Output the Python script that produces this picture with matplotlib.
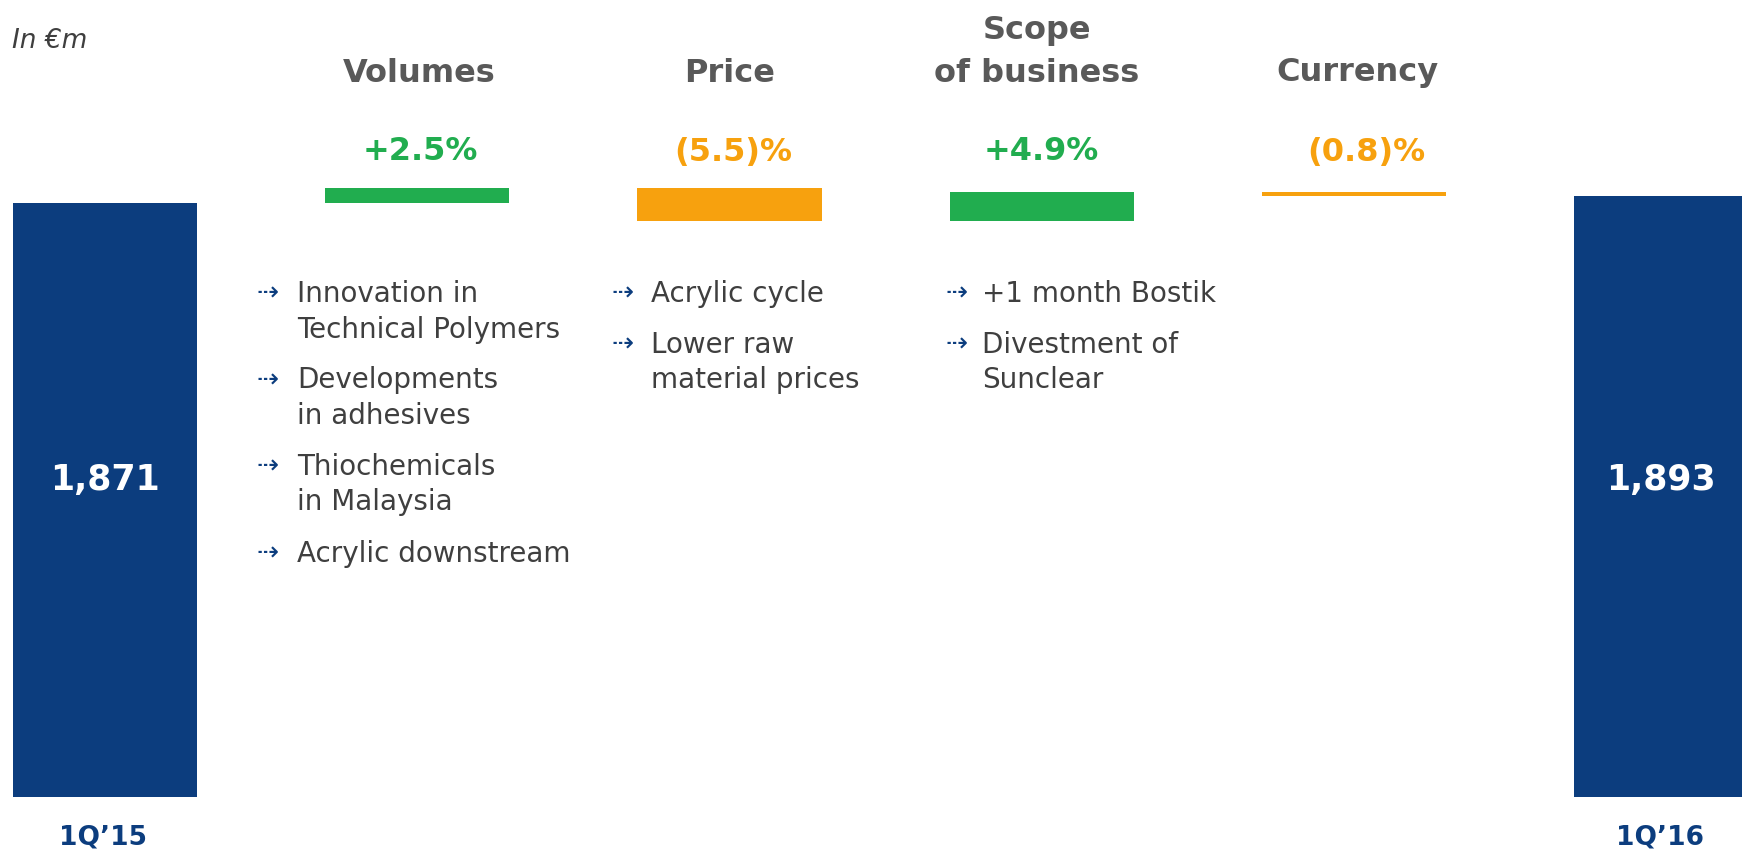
import numpy as np
import matplotlib
matplotlib.use("Agg")
import matplotlib.pyplot as plt

# data
start_label = "1Q\u201915"
end_label = "1Q\u201916"
start_value = 1871
end_value = 1893
steps = ["Volumes", "Price", "Scope\nof business", "Currency"]
step_pct = ["+2.5%", "(5.5)%", "+4.9%", "(0.8)%"]
step_delta = [47, -103, 92, -14]   # in €m
bullets = [
    ["Innovation in\nTechnical Polymers", "Developments\nin adhesives",
     "Thiochemicals\nin Malaysia", "Acrylic downstream"],
    ["Acrylic cycle", "Lower raw\nmaterial prices"],
    ["+1 month Bostik", "Divestment of\nSunclear"],
    [],
]

NAVY = "#0C3D7E"
GREEN = "#21AD4F"
ORANGE = "#F7A10E"
GRAY = "#595959"
TEXT = "#3F3F3F"
FONT = "DejaVu Sans"

W, H = 1742, 857
fig = plt.figure(figsize=(W / 100, H / 100), dpi=100)
ax = fig.add_axes([0, 0, 1, 1])
ax.axis("off")

# x positions of bars (category index), y scale so 0 sits at the base line
x0 = 105.0
step = 312.3
ax.set_xlim(-x0 / step, (W - x0) / step)
k = start_value / 594.0
ax.set_ylim(-(H - 797) * k, 797 * k)


def px(x, y):
    return x / W, 1 - y / H


bw = 0.59
ax.bar(0, start_value, width=bw, color=NAVY)
ax.bar(5, end_value, width=bw, color=NAVY)

level = start_value
for i, d in enumerate(step_delta):
    col = GREEN if d > 0 else ORANGE
    bottom = level if d > 0 else level + d
    ax.bar(i + 1, abs(d), bottom=bottom, width=bw, color=col)
    level += d

# values in the end bars
fig.text(*px(105, 480), f"{start_value:,}", color="white", fontsize=25,
         fontweight="bold", ha="center", va="center", family=FONT)
fig.text(*px(1661, 480), f"{end_value:,}", color="white", fontsize=25,
         fontweight="bold", ha="center", va="center", family=FONT)

# period labels
fig.text(*px(103, 838), start_label, color=NAVY, fontsize=19, fontweight="bold",
         ha="center", va="center", family=FONT)
fig.text(*px(1660, 838), end_label, color=NAVY, fontsize=19, fontweight="bold",
         ha="center", va="center", family=FONT)

fig.text(*px(12, 41), "In \u20acm", color=TEXT, fontsize=19, style="italic",
         ha="left", va="center", family=FONT)

# headers and percentages
head_x = [419, 730, 1037, 1357]
pct_x = [420, 733, 1041, 1366]
for i, name in enumerate(steps):
    if "\n" in name:
        top, bot = name.split("\n")
        fig.text(*px(head_x[i], 31), top, color=GRAY, fontsize=23, fontweight="bold",
                 ha="center", va="center", family=FONT)
        fig.text(*px(head_x[i], 73), bot, color=GRAY, fontsize=23, fontweight="bold",
                 ha="center", va="center", family=FONT)
    else:
        fig.text(*px(head_x[i], 73), name, color=GRAY, fontsize=23, fontweight="bold",
                 ha="center", va="center", family=FONT)
    col = GREEN if step_delta[i] > 0 else ORANGE
    fig.text(*px(pct_x[i], 152), step_pct[i], color=col, fontsize=23, fontweight="bold",
             ha="center", va="center", family=FONT)

# bullet lists
icon_x = [268, 623, 957]
text_x = [297, 651, 982]
line_h = 35.5
gap = 15.5
for c, items in enumerate(bullets):
    y = 294
    for it in items:
        fig.text(*px(icon_x[c], y), "\u21e2", color=NAVY, fontsize=19,
                 ha="center", va="center", family=FONT)
        for ln in it.split("\n"):
            fig.text(*px(text_x[c], y), ln, color=TEXT, fontsize=20,
                     ha="left", va="center", family=FONT)
            y += line_h
        y += gap

fig.savefig("out.png", dpi=100)
